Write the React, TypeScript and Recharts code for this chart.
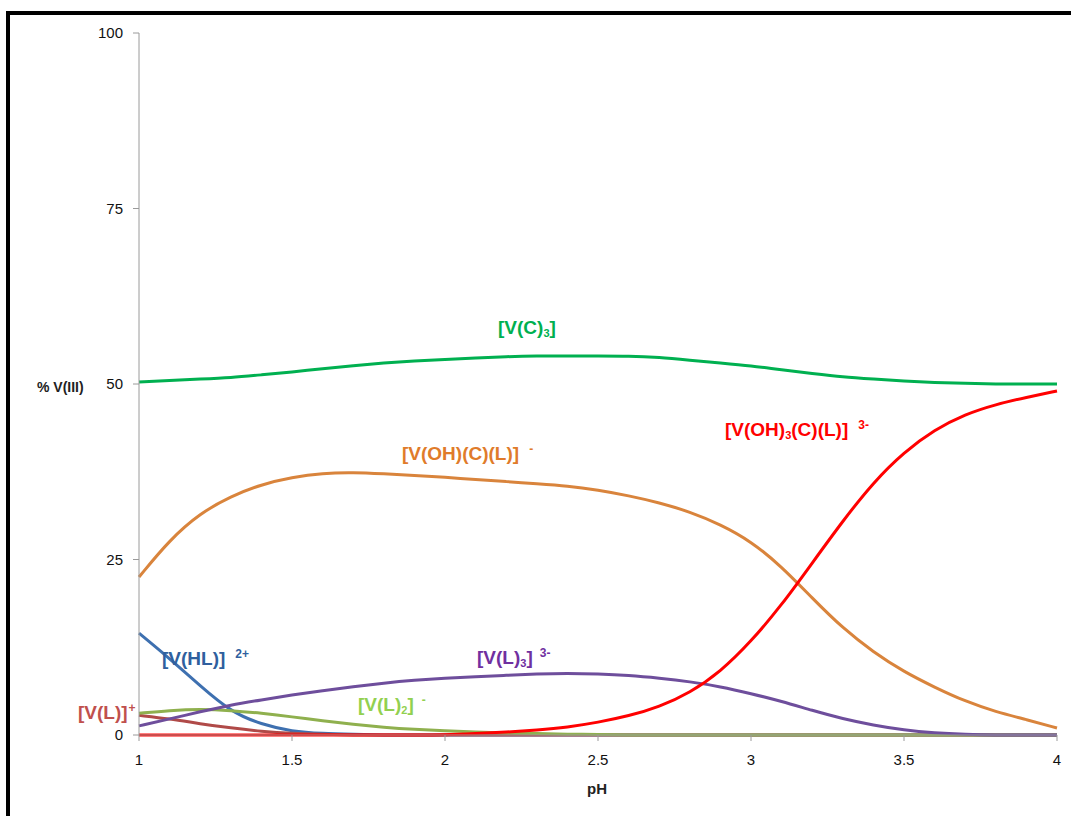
import { LineChart, Line, XAxis, YAxis } from "recharts";

// pH grid, 0.1 steps
const PH = [
  1.0, 1.1, 1.2, 1.3, 1.4, 1.5, 1.6, 1.7, 1.8, 1.9,
  2.0, 2.1, 2.2, 2.3, 2.4, 2.5, 2.6, 2.7, 2.8, 2.9,
  3.0, 3.1, 3.2, 3.3, 3.4, 3.5, 3.6, 3.7, 3.8, 3.9, 4.0,
];

// % V(III) per species
const V_C3 = [
  50.3, 50.5, 50.7, 50.9, 51.3, 51.7, 52.2, 52.6, 53.0, 53.3,
  53.5, 53.7, 53.9, 54.0, 54.0, 54.0, 54.0, 53.8, 53.4, 53.0,
  52.6, 52.0, 51.5, 51.0, 50.7, 50.4, 50.2, 50.1, 50.0, 50.0, 50.0,
];
const V_OH_C_L = [
  22.5, 27.8, 31.6, 34.0, 35.7, 36.7, 37.3, 37.4, 37.2, 37.0,
  36.7, 36.4, 36.1, 35.8, 35.5, 34.9, 34.1, 33.1, 31.8, 30.0,
  27.6, 24.0, 19.5, 15.2, 11.8, 9.0, 6.8, 4.8, 3.3, 2.2, 1.0,
];
const V_OH3_C_L = [
  0, 0, 0, 0, 0, 0, 0, 0, 0, 0,
  0, 0.2, 0.4, 0.7, 1.1, 1.8, 2.7, 4.0, 6.0, 9.0,
  13.3, 18.5, 24.5, 30.5, 36.0, 40.3, 43.5, 45.7, 47.1, 48.1, 49.0,
];
const V_L3 = [
  1.3, 2.3, 3.3, 4.3, 5.0, 5.7, 6.3, 6.9, 7.4, 7.8,
  8.1, 8.3, 8.5, 8.7, 8.8, 8.7, 8.5, 8.1, 7.6, 6.9,
  5.9, 4.8, 3.5, 2.3, 1.4, 0.7, 0.3, 0.1, 0, 0, 0,
];
const V_HL = [
  14.5, 10.9, 7.0, 3.3, 1.5, 0.5, 0.2, 0.1, 0, 0,
  0, 0, 0, 0, 0, 0, 0, 0, 0, 0,
  0, 0, 0, 0, 0, 0, 0, 0, 0, 0, 0,
];
const V_L2 = [
  3.1, 3.5, 3.7, 3.5, 3.1, 2.6, 2.0, 1.5, 1.1, 0.8,
  0.6, 0.4, 0.3, 0.2, 0.1, 0.1, 0, 0, 0, 0,
  0, 0, 0, 0, 0, 0, 0, 0, 0, 0, 0,
];
const V_L = [
  2.8, 2.3, 1.6, 1.0, 0.5, 0.2, 0.1, 0, 0, 0,
  0, 0, 0, 0, 0, 0, 0, 0, 0, 0,
  0, 0, 0, 0, 0, 0, 0, 0, 0, 0, 0,
];

const X_TICKS = [1, 1.5, 2, 2.5, 3, 3.5, 4];
const Y_TICKS = [0, 25, 50, 75, 100];

const data = PH.map((ph, i) => ({
  ph,
  vc3: V_C3[i],
  vohcl: V_OH_C_L[i],
  voh3cl: V_OH3_C_L[i],
  vl3: V_L3[i],
  vhl: V_HL[i],
  vl2: V_L2[i],
  vl: V_L[i],
}));

const FONT = "'Liberation Sans', Arial, sans-serif";
const tickStyle = { fontSize: 15, fill: "#111", fontFamily: FONT };

function Lbl({ x, y, color, main, sub, sup, supGap = 10 }: {
  x: number; y: number; color: string; main: string; sub?: [string, string]; sup?: string; supGap?: number;
}) {
  return (
    <text x={x} y={y} fill={color} fontFamily={FONT} fontWeight="bold" fontSize={19}>
      {sub ? (
        <>
          {sub[0]}
          <tspan fontSize={11} dy={3}>{sub[1]}</tspan>
          <tspan dy={-3}>{main}</tspan>
        </>
      ) : main}
      {sup && <tspan fontSize={12} dx={supGap} dy={-7}>{sup}</tspan>}
    </text>
  );
}

export default function App() {
  return (
    <div style={{ position: "fixed", left: 0, top: 0, width: 1071, height: 816, overflow: "hidden", background: "#fff" }}>
      <div style={{ position: "absolute", left: 6, top: 11, width: 1200, height: 1000, border: "4px solid #000", boxSizing: "border-box" }} />
      <div style={{ position: "absolute", left: 0, top: 0 }}>
        <LineChart width={1071} height={816} data={data} margin={{ top: 33, right: 14, bottom: 51, left: 99 }}>
          <XAxis
            dataKey="ph"
            type="number"
            domain={[1, 4]}
            ticks={X_TICKS}
            tick={tickStyle}
            tickSize={6}
            tickMargin={13}
            stroke="#9a9a9a"
            height={30}
            interval={0}
            allowDecimals
          />
          <YAxis
            type="number"
            domain={[0, 100]}
            ticks={Y_TICKS}
            tick={tickStyle}
            tickSize={6}
            tickMargin={10}
            stroke="#9a9a9a"
            width={40}
            interval={0}
          />
          <Line type="basis" dataKey="vhl" stroke="#3e70b0" strokeWidth={3} dot={false} isAnimationActive={false} />
          <Line type="basis" dataKey="vl" stroke="#b04a48" strokeWidth={3} dot={false} isAnimationActive={false} />
          <Line type="basis" dataKey="vl2" stroke="#8fb04e" strokeWidth={3} dot={false} isAnimationActive={false} />
          <Line type="basis" dataKey="vl3" stroke="#6e4e9c" strokeWidth={3} dot={false} isAnimationActive={false} />
          <Line type="basis" dataKey="vohcl" stroke="#d9843c" strokeWidth={3} dot={false} isAnimationActive={false} />
          <Line type="basis" dataKey="vc3" stroke="#00b050" strokeWidth={3} dot={false} isAnimationActive={false} />
          <Line type="basis" dataKey="voh3cl" stroke="#ff0000" strokeWidth={3} dot={false} isAnimationActive={false} />
        </LineChart>
      </div>
      <svg width={1071} height={816} style={{ position: "absolute", left: 0, top: 0, pointerEvents: "none" }}>
        <text x={37} y={392} fontFamily={FONT} fontWeight="bold" fontSize={14} fill="#222">% V(III)</text>
        <text x={597} y={794} textAnchor="middle" fontFamily={FONT} fontWeight="bold" fontSize={15} fill="#222">pH</text>
        <Lbl x={498} y={334} color="#00b050" main="]" sub={["[V(C)", "3"]} />
        <Lbl x={402} y={460} color="#e07b2a" main="[V(OH)(C)(L)]" sup="-" />
        <Lbl x={725} y={436} color="#ff0000" main="(C)(L)]" sub={["[V(OH)", "3"]} sup="3-" />
        <Lbl x={162} y={665} color="#2f5f9e" main="[V(HL)]" sup="2+" />
        <Lbl x={477} y={664} color="#7030a0" main="]" sub={["[V(L)", "3"]} sup="3-" supGap={7} />
        <Lbl x={358} y={711} color="#92d050" main="]" sub={["[V(L)", "2"]} sup="-" supGap={8} />
        <Lbl x={78} y={719} color="#c0504d" main="[V(L)]" sup="+" supGap={1} />
      </svg>
    </div>
  );
}
